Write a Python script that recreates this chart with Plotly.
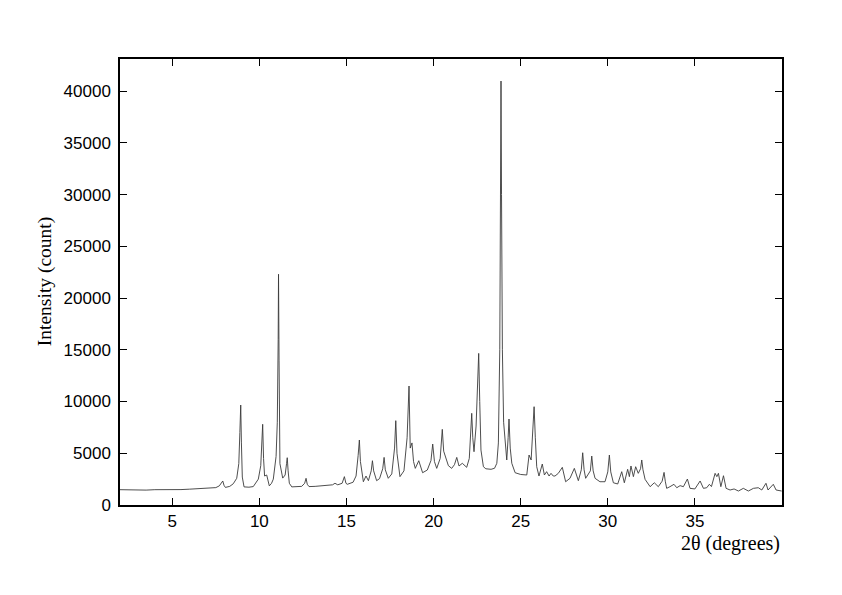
import plotly.graph_objects as go

two_theta = [
    2.0, 2.5, 3.0, 3.5, 4.0, 4.5, 5.0, 5.5, 6.0, 6.5, 7.0, 7.5, 7.7, 7.85, 7.9, 7.97, 8.05,
    8.3, 8.5, 8.7, 8.82, 8.88, 8.93, 8.97, 9.02, 9.12, 9.4, 9.65, 9.94, 10.08, 10.15, 10.19,
    10.24, 10.3, 10.42, 10.5, 10.57, 10.7, 10.8, 10.96, 11.03, 11.08, 11.1, 11.13, 11.18,
    11.34, 11.48, 11.56, 11.6, 11.65, 11.72, 11.86, 12.1, 12.43, 12.6, 12.68, 12.75, 12.85,
    13.2, 13.87, 14.2, 14.34, 14.5, 14.75, 14.88, 14.97, 15.05, 15.38, 15.55, 15.67, 15.74,
    15.8, 15.9, 15.97, 16.12, 16.26, 16.42, 16.49, 16.56, 16.73, 16.9, 17.08, 17.16, 17.23,
    17.4, 17.6, 17.76, 17.83, 17.9, 18.07, 18.3, 18.48, 18.59, 18.66, 18.76, 18.85, 18.95,
    19.15, 19.37, 19.64, 19.85, 19.95, 20.05, 20.18, 20.38, 20.5, 20.58, 20.71, 20.85, 21.04,
    21.2, 21.33, 21.46, 21.65, 21.9, 22.05, 22.12, 22.19, 22.25, 22.32, 22.44, 22.53, 22.59,
    22.65, 22.72, 22.86, 23.0, 23.3, 23.5, 23.63, 23.72, 23.8, 23.85, 23.87, 23.9, 23.95,
    24.02, 24.1, 24.2, 24.28, 24.33, 24.4, 24.49, 24.68, 25.0, 25.35, 25.48, 25.6, 25.7,
    25.77, 25.84, 25.92, 26.05, 26.24, 26.36, 26.49, 26.63, 26.74, 26.87, 26.97, 27.16,
    27.39, 27.58, 27.83, 28.08, 28.31, 28.48, 28.56, 28.64, 28.73, 29.0, 29.08, 29.16, 29.27,
    29.55, 29.84, 30.0, 30.09, 30.17, 30.32, 30.57, 30.8, 30.95, 31.14, 31.24, 31.33, 31.47,
    31.6, 31.75, 31.88, 31.95, 32.02, 32.14, 32.43, 32.67, 32.9, 33.12, 33.23, 33.3, 33.38,
    33.57, 33.8, 33.96, 34.15, 34.34, 34.57, 34.72, 35.0, 35.3, 35.49, 35.68, 35.83, 35.95,
    36.16, 36.26, 36.35, 36.49, 36.64, 36.79, 37.02, 37.25, 37.5, 37.78, 38.07, 38.36, 38.64,
    38.84, 39.08, 39.2, 39.5, 39.66, 39.98,
]

intensity = [
    1480, 1450, 1470, 1440, 1480, 1460, 1500, 1490, 1530, 1560, 1600, 1680, 1850, 2200, 2320, 1900, 1700,
    1800, 2050, 2580, 4000, 7000, 9660, 6000, 2700, 1750, 1720, 1780, 2500, 3800, 6500, 7800,
    4500, 2800, 2900, 2300, 1850, 2100, 2500, 4700, 8000, 16000, 22300, 14000, 4000,
    2600, 2900, 4000, 4570, 3300, 2100, 1750, 1760, 1800, 2100, 2580, 2000, 1780,
    1800, 1860, 1950, 2100, 1950, 2100, 2740, 2100, 2000, 2200, 2800, 4800, 6280,
    4200, 2700, 2250, 2800, 2350, 3300, 4280, 3300, 2350, 2550, 3500, 4600, 3400,
    2580, 3000, 5500, 8150, 5000, 2740, 3300, 6500, 11500, 5500, 6000, 4200, 3540,
    4280, 3120, 3380, 4300, 5890, 4200, 3540, 4500, 7310, 5200, 4510, 3800, 3540,
    3900, 4600, 3770, 4030, 3640, 4500, 7000, 8860, 6500, 5150, 7630, 11000, 14650,
    10000, 5310, 3700, 3500, 3450, 3550, 4030, 6000, 15000, 30000, 40970, 30000, 15000,
    8000, 6440, 4350, 6500, 8310, 5500, 4030, 3120, 2950, 2900, 4830, 4350, 7000,
    9500, 6500, 3700, 2800, 3960, 2900, 3220, 2800, 3060, 2800, 2800, 3060,
    3640, 2250, 2580, 3540, 2350, 3400, 5050, 3400, 2580, 3300, 4730, 3300, 2580,
    2250, 2250, 3200, 4830, 3200, 2150, 2030, 3220, 2150, 3450, 2740, 3770, 2740,
    3700, 3060, 3500, 4350, 3400, 2480, 1770, 2150, 1770, 2300, 3150, 2300, 1610,
    1770, 2000, 1670, 1870, 1770, 2510, 1610, 1550, 2320, 1610, 1670, 2000, 1780,
    3060, 2740, 3060, 1770, 2830, 1610, 1450, 1550, 1350, 1610, 1350, 1610, 1670,
    1450, 2100, 1450, 2000, 1450, 1350,
]

x_ticks = [5, 10, 15, 20, 25, 30, 35]
y_ticks = [0, 5000, 10000, 15000, 20000, 25000, 30000, 35000, 40000]

fig = go.Figure()
fig.add_trace(go.Scatter(
    x=two_theta, y=intensity, mode="lines",
    line=dict(color="#3a3a3a", width=0.9),
    showlegend=False, hoverinfo="skip",
))

tick_font = dict(family="Liberation Sans, Arial, sans-serif", size=17, color="black")
axis_common = dict(
    showgrid=False, zeroline=False, showline=True, linecolor="black", linewidth=1.5,
    mirror="ticks", ticks="inside", ticklen=7, tickwidth=1.2, tickcolor="black",
    tickfont=tick_font,
)

fig.update_layout(
    width=826, height=579,
    margin=dict(l=112, r=52, t=51, b=82),
    paper_bgcolor="white", plot_bgcolor="white",
    xaxis=dict(range=[2, 40], tickvals=x_ticks, ticktext=[str(v) for v in x_ticks], **axis_common),
    yaxis=dict(range=[0, 43100], tickvals=y_ticks, ticktext=[str(v) for v in y_ticks],
               ticklabelstandoff=4, **axis_common),
    annotations=[
        dict(text="Intensity (count)", xref="paper", yref="paper", x=-0.113, y=0.5,
             xanchor="center", yanchor="middle", textangle=-90, showarrow=False,
             font=dict(family="Liberation Serif, Times New Roman, serif", size=19.5, color="black")),
        dict(text="2θ (degrees)", xref="paper", yref="paper", x=1.0, y=-0.086,
             xanchor="right", yanchor="middle", showarrow=False,
             font=dict(family="Liberation Serif, Times New Roman, serif", size=20, color="black")),
    ],
)

fig.write_html("out.html")
